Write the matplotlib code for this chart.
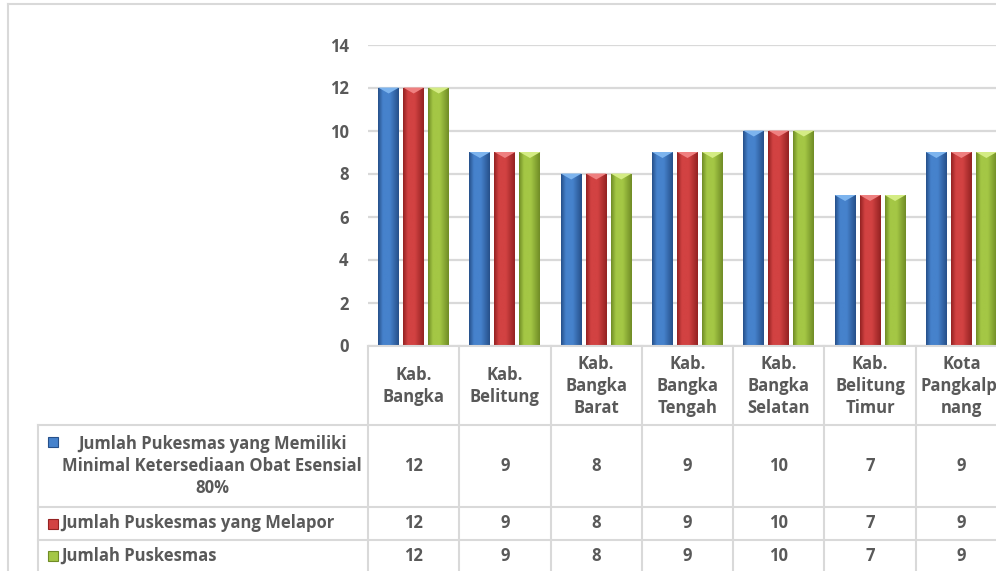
import matplotlib
matplotlib.use("Agg")
import matplotlib.pyplot as plt
import numpy as np
from matplotlib.colors import LinearSegmentedColormap
from matplotlib.patches import Polygon, Rectangle

plt.rcParams['font.family'] = ['Open Sans', 'DejaVu Sans']

# data
categories = ["Kab.\nBangka", "Kab.\nBelitung", "Kab.\nBangka\nBarat", "Kab.\nBangka\nTengah",
              "Kab.\nBangka\nSelatan", "Kab.\nBelitung\nTimur", "Kota\nPangkalpi\nnang"]
series_names = ["Jumlah Pukesmas yang Memiliki\nMinimal Ketersediaan Obat Esensial\n80%",
                "Jumlah Puskesmas yang Melapor",
                "Jumlah Puskesmas"]
obat_esensial = [12, 9, 8, 9, 10, 7, 9]
melapor = [12, 9, 8, 9, 10, 7, 9]
puskesmas = [12, 9, 8, 9, 10, 7, 9]
series = [obat_esensial, melapor, puskesmas]

# (edge, highlight, top chevron)
colors = [("#26508a", "#4682cc", "#7db4ee"),
          ("#942222", "#d24242", "#ef8080"),
          ("#708c26", "#a4c745", "#d4ec84")]
text_col = "#595959"
grid_col = "#d9d9d9"
fs = 12

W, H = 996, 571
fig = plt.figure(figsize=(W / 100, H / 100), dpi=100)

def fx(px):
    return px / W

def fy(py):
    return 1 - py / H

# chart axes (right end runs past the figure edge, as in the reference)
x_left, x_right = 368, 1007
y_top, y_zero = 44.5, 345.5
ax = fig.add_axes([fx(x_left), fy(y_zero), fx(x_right - x_left), (y_zero - y_top) / H])
ax.set_yticks(range(0, 15, 2))
ax.set_xticks([])
ax.tick_params(axis='y', length=0, pad=14, labelsize=fs, labelcolor=text_col)
for lab in ax.get_yticklabels():
    lab.set_fontweight('bold')
ax.grid(axis='y', color=grid_col, lw=1.6)
ax.set_axisbelow(True)
for s in ax.spines.values():
    s.set_visible(False)

x = np.arange(len(categories))
step = 0.274
width = 0.23
px_per_unit = (y_zero - y_top) / 14
chev = 6 / px_per_unit
grad = np.interp(np.linspace(0, 1, 64), [0, 0.35, 1], [0.0, 0.5, 1.0])[None, :]

for i, vals in enumerate(series):
    edge, hi, top = colors[i]
    cmap = LinearSegmentedColormap.from_list("c%d" % i, [edge, hi, hi, edge], N=256)
    xs = x + (i - 1) * step
    bars = ax.bar(xs, vals, width, color=hi, zorder=2)
    for b, v in zip(bars, vals):
        x0 = b.get_x()
        x1 = x0 + b.get_width()
        im = ax.imshow(grad, cmap=cmap, extent=(x0, x1, 0, v), aspect='auto', zorder=3)
        im.set_clip_path(b)
        ax.add_patch(Polygon([(x0, v), (x1, v), ((x0 + x1) / 2, v - chev)],
                             closed=True, color=top, zorder=4, lw=0))
ax.set_xlim(-0.5, len(categories) - 0.5)
ax.set_ylim(0, 14)

# outer frame
fig.add_artist(plt.Line2D([fx(8), fx(8)], [fy(4), 0], color=grid_col, lw=1.5))
fig.add_artist(plt.Line2D([fx(8), 1], [fy(4), fy(4)], color=grid_col, lw=1.5))

# data table
row_lines = [345.5, 425, 507, 540]
row_mid = [466, 523.5, 556]
tbl_left = 38
col_w = (x_right - x_left) / len(categories)
lw_t = 1.5
ls = 1.3

def line(xa, xb, ya, yb):
    fig.add_artist(plt.Line2D([fx(xa), fx(xb)], [fy(ya), fy(yb)], color=grid_col, lw=lw_t))

line(x_left, W + 20, row_lines[0], row_lines[0])
for yl in row_lines[1:]:
    line(tbl_left, W + 20, yl, yl)
line(tbl_left, tbl_left, row_lines[1], H + 10)
for k in range(len(categories) + 1):
    xc = x_left + k * col_w
    line(xc, xc, row_lines[0], H + 10)

for k, cat in enumerate(categories):
    xc = x_left + (k + 0.5) * col_w
    fig.text(fx(xc), fy(386), cat, ha='center', va='center', fontsize=fs,
             fontweight='bold', color=text_col, linespacing=ls)
    for r in range(3):
        fig.text(fx(xc), fy(row_mid[r]), str(series[r][k]), ha='center', va='center',
                 fontsize=fs, fontweight='bold', color=text_col)

for r, name in enumerate(series_names):
    edge, hi, top = colors[r]
    fig.add_artist(Rectangle((fx(48), fy(row_mid[r] + 5 if r else 447)), fx(10), 10 / H,
                             facecolor=hi, edgecolor=edge, lw=0.8))
    if r == 0:
        fig.text(fx(212), fy(row_mid[0]), name, ha='center', va='center', fontsize=fs,
                 fontweight='bold', color=text_col, linespacing=ls)
    else:
        fig.text(fx(61), fy(row_mid[r]), name, ha='left', va='center', fontsize=fs,
                 fontweight='bold', color=text_col)

fig.savefig("out.png", dpi=100)
